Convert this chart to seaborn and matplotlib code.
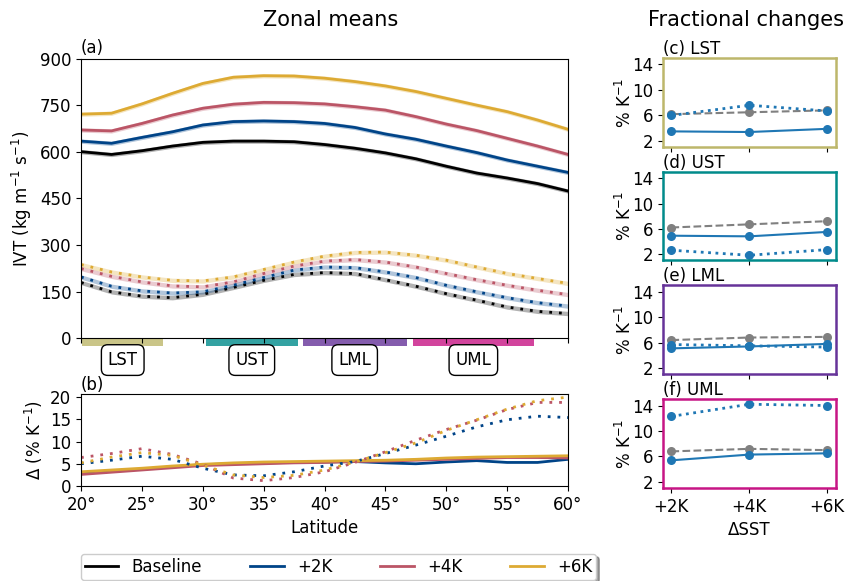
import numpy as np
import pandas as pd
import matplotlib
matplotlib.use("Agg")
import matplotlib.pyplot as plt
import matplotlib.transforms as mtransforms
from matplotlib.lines import Line2D
from matplotlib.patches import Rectangle
import seaborn as sns

# ---------------------------------------------------------------- data
lat = [20, 22.5, 25, 27.5, 30, 32.5, 35, 37.5, 40,
       42.5, 45, 47.5, 50, 52.5, 55, 57.5, 60]

experiments = ["Baseline", "+2K", "+4K", "+6K"]
exp_colors = ["#000000", "#004488", "#BB5566", "#DDAA33"]

# zonal-mean IVT, all time steps (solid)
ivt_mean_base = [601, 592, 604, 619, 631, 635, 635, 633, 624, 612, 597, 578, 554, 532, 516, 498, 474]
ivt_mean_p2k = [635, 628, 647, 665, 687, 698, 700, 698, 692, 679, 658, 641, 619, 598, 574, 554, 534]
ivt_mean_p4k = [671, 668, 692, 719, 741, 754, 760, 759, 755, 746, 735, 714, 690, 669, 644, 619, 592]
ivt_mean_p6k = [722, 725, 755, 789, 821, 841, 846, 845, 838, 827, 813, 795, 773, 751, 730, 703, 673]

# zonal-mean IVT, AR conditions (dotted)
ivt_ar_base = [179, 149, 135, 130, 141, 163, 186, 205, 211, 208, 188, 167, 143, 122, 100, 86, 79]
ivt_ar_p2k = [197, 167, 152, 145, 149, 170, 195, 219, 229, 227, 213, 195, 170, 149, 130, 114, 103]
ivt_ar_p4k = [224, 199, 181, 168, 165, 181, 208, 232, 248, 253, 245, 229, 208, 188, 170, 154, 140]
ivt_ar_p6k = [237, 213, 197, 186, 184, 197, 221, 245, 264, 276, 277, 267, 251, 229, 208, 192, 176]
ivt_spread = 7  # half-width of the shaded range

# fractional change per K of warming (panel b)
frac_mean_p2k = [2.8, 3.3, 3.8, 4.3, 4.8, 5.0, 5.2, 5.3, 5.4, 5.5, 5.2, 5.0, 5.4, 5.7, 5.3, 5.3, 6.0]
frac_mean_p4k = [2.6, 3.1, 3.6, 4.1, 4.6, 4.8, 5.0, 5.2, 5.3, 5.5, 5.6, 5.8, 6.0, 6.2, 6.4, 6.4, 6.3]
frac_mean_p6k = [3.2, 3.6, 4.0, 4.5, 4.9, 5.2, 5.4, 5.5, 5.6, 5.7, 5.8, 6.0, 6.3, 6.5, 6.6, 6.7, 6.8]
frac_ar_p2k = [5.0, 5.8, 6.7, 6.0, 4.0, 2.5, 2.3, 3.2, 4.5, 5.5, 7.3, 9.2, 11.2, 13.3, 14.9, 15.7, 15.4]
frac_ar_p4k = [6.4, 7.3, 8.4, 7.1, 4.9, 1.8, 1.2, 1.9, 3.2, 5.3, 7.7, 10.3, 12.7, 14.8, 17.2, 18.8, 18.8]
frac_ar_p6k = [5.2, 6.5, 7.5, 6.9, 4.7, 2.5, 1.9, 2.4, 3.6, 5.4, 7.5, 9.7, 12.5, 14.9, 17.3, 19.2, 20.0]

# latitude bands
regions = ["LST", "UST", "LML", "UML"]
region_start = [20.1, 30.25, 38.2, 47.25]
region_end = [26.75, 37.8, 46.75, 57.2]
region_colors = ["darkkhaki", "darkcyan", "rebeccapurple", "mediumvioletred"]

# band-averaged fractional changes (% K-1)
warming = ["+2K", "+4K", "+6K"]
cc_rate = {"LST": [6.2, 6.5, 6.8], "UST": [6.2, 6.7, 7.2],
           "LML": [6.4, 6.8, 6.9], "UML": [6.8, 7.2, 7.0]}
band_mean = {"LST": [3.5, 3.4, 3.9], "UST": [4.9, 4.8, 5.5],
             "LML": [5.1, 5.4, 5.8], "UML": [5.4, 6.3, 6.5]}
band_ar = {"LST": [6.0, 7.6, 6.7], "UST": [2.6, 1.8, 2.7],
           "LML": [5.7, 5.5, 5.3], "UML": [12.3, 14.2, 14.0]}

# ---------------------------------------------------------------- tables
ivt = pd.DataFrame({
    "lat": lat * 8,
    "exp": [e for e in experiments for _ in lat] * 2,
    "kind": ["mean"] * (4 * len(lat)) + ["ar"] * (4 * len(lat)),
    "ivt": (ivt_mean_base + ivt_mean_p2k + ivt_mean_p4k + ivt_mean_p6k
            + ivt_ar_base + ivt_ar_p2k + ivt_ar_p4k + ivt_ar_p6k),
})
frac = pd.DataFrame({
    "lat": lat * 6,
    "exp": [e for e in experiments[1:] for _ in lat] * 2,
    "kind": ["mean"] * (3 * len(lat)) + ["ar"] * (3 * len(lat)),
    "frac": (frac_mean_p2k + frac_mean_p4k + frac_mean_p6k
             + frac_ar_p2k + frac_ar_p4k + frac_ar_p6k),
})

# ---------------------------------------------------------------- figure
plt.rcParams.update({"font.family": ["DejaVu Sans"], "font.size": 12,
                     "xtick.labelsize": 12, "ytick.labelsize": 12})
fig = plt.figure(figsize=(8.52, 5.81), dpi=100)

ax_a = fig.add_axes([0.0951, 0.4182, 0.5716, 0.4803])
ax_b = fig.add_axes([0.0951, 0.1635, 0.5716, 0.1584])

dot = (0, (1, 2.5))
palette = dict(zip(experiments, exp_colors))

# (a) zonal means
for kind, ls in [("mean", "-"), ("ar", dot)]:
    for exp in experiments:
        sub = ivt[(ivt["kind"] == kind) & (ivt["exp"] == exp)]
        ax_a.fill_between(sub["lat"], sub["ivt"] - ivt_spread, sub["ivt"] + ivt_spread,
                          color=palette[exp], alpha=0.3, lw=0)
        sns.lineplot(data=sub, x="lat", y="ivt", ax=ax_a, color=palette[exp],
                     lw=2, linestyle=ls)
ax_a.set_xlim(20, 60)
ax_a.set_ylim(0, 900)
ax_a.set_yticks(np.arange(0, 901, 150))
ax_a.set_xticks(np.arange(20, 61, 5))
ax_a.tick_params(labelbottom=False)
ax_a.set_xlabel("")
ax_a.set_ylabel("IVT (kg m$^{-1}$ s$^{-1}$)", fontsize=12)
ax_a.set_title("(a)", loc="left", fontsize=12, pad=4)

trans = mtransforms.blended_transform_factory(ax_a.transData, ax_a.transAxes)
for name, s, e, c in zip(regions, region_start, region_end, region_colors):
    ax_a.add_patch(Rectangle((s, -0.029), e - s, 0.029, transform=trans,
                             color=c, alpha=0.8, lw=0, clip_on=False, zorder=1))
    ax_a.text((s + e) / 2, -0.079, name, transform=trans, ha="center", va="center",
              fontsize=12,
              bbox=dict(boxstyle="round,pad=0.38", fc="white", ec="black", lw=1))

# (b) fractional change per K
for kind, ls in [("mean", "-"), ("ar", dot)]:
    for exp in experiments[1:]:
        sub = frac[(frac["kind"] == kind) & (frac["exp"] == exp)]
        sns.lineplot(data=sub, x="lat", y="frac", ax=ax_b, color=palette[exp],
                     lw=2, linestyle=ls)
ax_b.set_xlim(20, 60)
ax_b.set_ylim(0, 20.7)
ax_b.set_yticks([0, 5, 10, 15, 20])
ticks_b = np.arange(20, 61, 5)
ax_b.set_xticks(ticks_b, labels=[f"{t}°" for t in ticks_b])
ax_b.set_xlabel("Latitude", fontsize=12)
ax_b.set_ylabel("Δ (% K$^{-1}$)", fontsize=12)
ax_b.set_title("(b)", loc="left", fontsize=12, pad=2)

# (c)-(f) band averages
right_pos = [(0.747, 0.153), (0.5525, 0.1515), (0.356, 0.153), (0.160, 0.153)]
letters = ["c", "d", "e", "f"]
xpos = np.arange(len(warming))
for i, (name, (bot, h)) in enumerate(zip(regions, right_pos)):
    ax = fig.add_axes([0.778, bot, 0.203, h])
    sns.lineplot(x=xpos, y=cc_rate[name], ax=ax, color="gray", lw=1.5,
                 linestyle="--", marker="o", markersize=6.5, mec="gray", mew=0)
    sns.lineplot(x=xpos, y=band_mean[name], ax=ax, color="tab:blue", lw=1.5,
                 linestyle="-", marker="o", markersize=6.5, mec="tab:blue", mew=0)
    sns.lineplot(x=xpos, y=band_ar[name], ax=ax, color="tab:blue", lw=2,
                 linestyle=":", marker="o", markersize=6.5, mec="tab:blue", mew=0)
    ax.set_ylim(1.05, 15)
    ax.set_xlim(-0.11, 2.11)
    ax.set_yticks([2, 6, 10, 14])
    ax.set_xticks(xpos, labels=warming)
    for sp in ax.spines.values():
        sp.set_color(region_colors[i])
        sp.set_linewidth(1.8)
    ax.set_title(f"({letters[i]}) {name}", loc="left", fontsize=12, pad=3)
    ax.set_ylabel("% K$^{-1}$", fontsize=12)
    ax.yaxis.set_label_coords(-0.16, 0.5)
    if i < 3:
        ax.tick_params(labelbottom=False)
        ax.set_xlabel("")
    else:
        ax.set_xlabel("ΔSST", fontsize=12)

fig.text(0.388, 0.966, "Zonal means", ha="center", va="center", fontsize=15)
fig.text(0.876, 0.966, "Fractional changes", ha="center", va="center", fontsize=15)

handles = [Line2D([], [], color=c, lw=2) for c in exp_colors]
fig.legend(handles, experiments, loc="upper left", ncol=4, mode="expand",
           bbox_to_anchor=(0.095, 0.0465, 0.605, 0.0), fontsize=12, shadow=True,
           fancybox=True, borderaxespad=0.0, borderpad=0.25)

fig.savefig("out.png", dpi=100)
